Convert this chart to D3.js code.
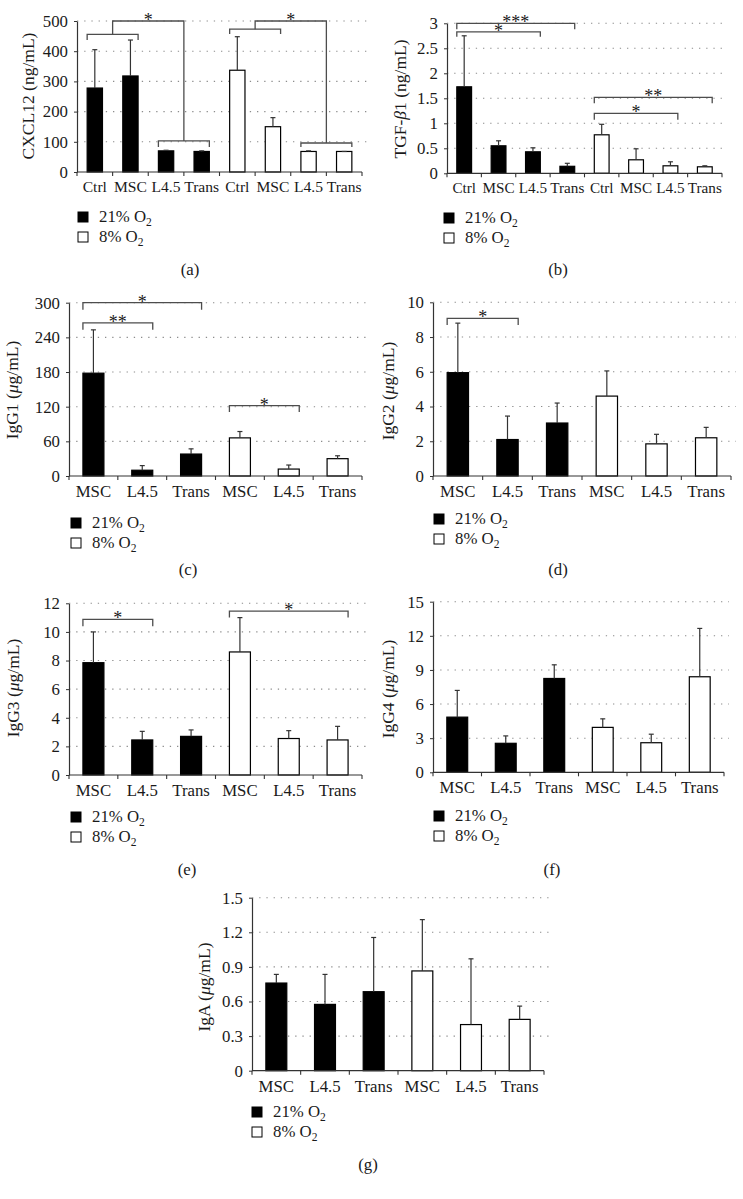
<!DOCTYPE html>
<html>
<head>
<meta charset="utf-8">
<script src="https://cdn.jsdelivr.net/npm/d3@7"></script>
<style>
  body { margin: 0; background: #fff; }
  text { font-family: "Liberation Serif", "DejaVu Serif", serif; fill: #1a1a1a; }
</style>
</head>
<body>
<svg id="fig" width="743" height="1199"></svg>
<script>
// categories
const catsCyto = ['Ctrl', 'MSC', 'L4.5', 'Trans', 'Ctrl', 'MSC', 'L4.5', 'Trans'];
const catsIg = ['MSC', 'L4.5', 'Trans', 'MSC', 'L4.5', 'Trans'];
const legendLabels = ['21% O', '8% O'];

// means and SD (upper error bar), first half = 21% O2, second half = 8% O2
const cxcl12Mean = [278, 318, 70, 68, 337, 150, 68, 68];
const cxcl12Sd   = [127, 119, 2, 2, 111, 30, 2, 0];
const tgfMean = [1.73, 0.55, 0.43, 0.14, 0.77, 0.27, 0.15, 0.13];
const tgfSd   = [1.02, 0.10, 0.08, 0.06, 0.21, 0.22, 0.08, 0.02];
const igg1Mean = [178, 10, 38, 66, 12, 30];
const igg1Sd   = [75, 8, 9, 11, 7, 5];
const igg2Mean = [5.95, 2.1, 3.05, 4.6, 1.85, 2.2];
const igg2Sd   = [2.85, 1.35, 1.15, 1.45, 0.55, 0.6];
const igg3Mean = [7.85, 2.45, 2.7, 8.6, 2.55, 2.45];
const igg3Sd   = [2.15, 0.6, 0.45, 2.4, 0.55, 0.95];
const igg4Mean = [4.85, 2.55, 8.25, 3.95, 2.6, 8.4];
const igg4Sd   = [2.35, 0.65, 1.2, 0.75, 0.75, 4.25];
const igaMean = [0.76, 0.575, 0.685, 0.865, 0.40, 0.445];
const igaSd   = [0.075, 0.26, 0.47, 0.445, 0.57, 0.115];

// tick labels
const ticksCxcl = [0, 100, 200, 300, 400, 500];
const ticksTgf = [0, 0.5, 1, 1.5, 2, 2.5, 3];
const ticksIgg1 = [0, 60, 120, 180, 240, 300];
const ticksIgg2 = [0, 2, 4, 6, 8, 10];
const ticksIgg3 = [0, 2, 4, 6, 8, 10, 12];
const ticksIgg4 = [0, 3, 6, 9, 12, 15];
const ticksIga = [0, 0.3, 0.6, 0.9, 1.2, 1.5];

// significance brackets (category indices, heights in data units)
const sigCxcl = [
  { left: [0, 1], right: [2, 3], leftY: 456, leftDrop: 437, rightY: 103, rightDrop: 83, top: 500, label: '*' },
  { left: [4, 5], right: [6, 7], leftY: 473, leftDrop: 457, rightY: 96, rightDrop: 83, top: 500, label: '*' }
];
const sigTgf = [
  { from: 0, to: 3, y: 3.0, drop: 2.88, label: '***' },
  { from: 0, to: 2, y: 2.83, drop: 2.73, label: '*' },
  { from: 4, to: 7, y: 1.52, drop: 1.4, label: '**' },
  { from: 4, to: 6, y: 1.2, drop: 1.07, label: '*' }
];
const sigIgg1 = [
  { from: 0, to: 2, y: 300, drop: 288, label: '*' },
  { from: 0, to: 1, y: 265, drop: 253, label: '**' },
  { from: 3, to: 4, y: 122, drop: 111, label: '*' }
];
const sigIgg2 = [ { from: 0, to: 1, y: 9.08, drop: 8.7, label: '*' } ];
const sigIgg3 = [
  { from: 0, to: 1, y: 10.88, drop: 10.4, label: '*' },
  { from: 3, to: 5, y: 11.46, drop: 11.0, label: '*' }
];

const panels = [
  { cats: catsCyto, mean: cxcl12Mean, sd: cxcl12Sd, ticks: ticksCxcl, sig: sigCxcl, nested: true,
    title: [['CXCL12 (ng/mL)', false]], tag: '(a)', catSize: 15.6,
    x0: 77, x1: 362, y0: 172, yTop: 21, titleX: 34, titleY: 96, legX: 78, legY: 212, tagX: 190, tagY: 275 },
  { cats: catsCyto, mean: tgfMean, sd: tgfSd, ticks: ticksTgf, sig: sigTgf,
    title: [['TGF-', false], ['β', true], ['1 (ng/mL)', false]], tag: '(b)', catSize: 15.2,
    x0: 447, x1: 722, y0: 173.3, yTop: 23.3, titleX: 406, titleY: 99, legX: 444, legY: 213, tagX: 558, tagY: 275 },
  { cats: catsIg, mean: igg1Mean, sd: igg1Sd, ticks: ticksIgg1, sig: sigIgg1,
    title: [['IgG1 (', false], ['μ', true], ['g/mL)', false]], tag: '(c)', catSize: 16.8,
    x0: 69, x1: 362, y0: 476, yTop: 302.7, titleX: 18, titleY: 390, legX: 71, legY: 518, tagX: 188, tagY: 575 },
  { cats: catsIg, mean: igg2Mean, sd: igg2Sd, ticks: ticksIgg2, sig: sigIgg2,
    title: [['IgG2 (', false], ['μ', true], ['g/mL)', false]], tag: '(d)', catSize: 16.8,
    x0: 433, x1: 731, y0: 476, yTop: 302.3, titleX: 394, titleY: 391, legX: 434, legY: 514, tagX: 558, tagY: 575 },
  { cats: catsIg, mean: igg3Mean, sd: igg3Sd, ticks: ticksIgg3, sig: sigIgg3,
    title: [['IgG3 (', false], ['μ', true], ['g/mL)', false]], tag: '(e)', catSize: 16.8,
    x0: 69, x1: 362, y0: 775, yTop: 603.3, titleX: 18.5, titleY: 688, legX: 71, legY: 812, tagX: 187, tagY: 875 },
  { cats: catsIg, mean: igg4Mean, sd: igg4Sd, ticks: ticksIgg4, sig: [],
    title: [['IgG4 (', false], ['μ', true], ['g/mL)', false]], tag: '(f)', catSize: 16.8,
    x0: 433, x1: 724, y0: 772.3, yTop: 601.7, titleX: 394, titleY: 689, legX: 434, legY: 811, tagX: 552, tagY: 875 },
  { cats: catsIg, mean: igaMean, sd: igaSd, ticks: ticksIga, sig: [],
    title: [['IgA (', false], ['μ', true], ['g/mL)', false]], tag: '(g)', catSize: 16.8,
    x0: 252, x1: 544, y0: 1070.7, yTop: 897.7, titleX: 210, titleY: 987, legX: 252, legY: 1107, tagX: 368, tagY: 1170 }
];

const svg = d3.select('#fig');
svg.append('rect').attr('width', 743).attr('height', 1199).attr('fill', '#fff');

const fs = 16.8; // main label size

function drawPanel(p) {
  const g = svg.append('g');
  const n = p.cats.length;
  const half = n / 2;
  const x = d3.scaleBand().domain(d3.range(n)).range([p.x0, p.x1]);
  const y = d3.scaleLinear().domain([0, d3.max(p.ticks)]).range([p.y0, p.yTop]);
  const bw = x.bandwidth() * 0.43;
  const cx = i => x(i) + x.bandwidth() / 2;

  // dotted gridlines
  g.selectAll('.grid').data(p.ticks.filter(t => t > 0)).join('line')
    .attr('x1', p.x0).attr('x2', p.x1 + 5)
    .attr('y1', d => y(d)).attr('y2', d => y(d))
    .attr('stroke', '#8c8c8c').attr('stroke-width', 1.1)
    .attr('stroke-dasharray', '1.3,5.9');

  // bars
  g.selectAll('.bar').data(p.mean).join('rect')
    .attr('x', (d, i) => cx(i) - bw / 2)
    .attr('y', d => y(d))
    .attr('width', bw)
    .attr('height', d => y(0) - y(d))
    .attr('fill', (d, i) => i < half ? '#000' : '#fff')
    .attr('stroke', '#000').attr('stroke-width', 1.2);

  // error bars (upper only)
  const err = g.selectAll('.err').data(p.mean.map((m, i) => ({ m, s: p.sd[i], i }))).join('g');
  err.append('line')
    .attr('x1', d => cx(d.i)).attr('x2', d => cx(d.i))
    .attr('y1', d => y(d.m)).attr('y2', d => y(d.m + d.s))
    .attr('stroke', '#333').attr('stroke-width', 1.2);
  err.append('line')
    .attr('x1', d => cx(d.i) - 2.5).attr('x2', d => cx(d.i) + 2.5)
    .attr('y1', d => y(d.m + d.s)).attr('y2', d => y(d.m + d.s))
    .attr('stroke', '#333').attr('stroke-width', 1.2);

  // y axis
  const ya = g.append('g').attr('transform', `translate(${p.x0},0)`)
    .call(d3.axisLeft(y).tickValues(p.ticks).tickSize(3).tickSizeOuter(0).tickPadding(6).tickFormat(d => String(d)));
  ya.select('.domain').attr('stroke', '#333').attr('stroke-width', 1.2);
  ya.selectAll('.tick line').attr('stroke', '#333');
  ya.selectAll('.tick text').attr('font-size', fs).attr('fill', '#1a1a1a')
    .style('font-family', '"Liberation Serif", serif');

  // x axis
  const xa = g.append('g').attr('transform', `translate(0,${p.y0})`)
    .call(d3.axisBottom(x).tickSize(0).tickPadding(9).tickFormat(i => p.cats[i]));
  xa.select('.domain').remove();
  xa.selectAll('.tick text').attr('font-size', p.catSize).attr('fill', '#1a1a1a')
    .style('font-family', '"Liberation Serif", serif');
  g.append('line').attr('x1', p.x0).attr('x2', p.x1).attr('y1', p.y0).attr('y2', p.y0)
    .attr('stroke', '#333').attr('stroke-width', 1.2);
  g.selectAll('.xt').data(d3.range(n + 1)).join('line')
    .attr('x1', i => p.x0 + i * x.step()).attr('x2', i => p.x0 + i * x.step())
    .attr('y1', p.y0).attr('y2', p.y0 + 4)
    .attr('stroke', '#333').attr('stroke-width', 1.1);

  // y title
  const t = g.append('text')
    .attr('transform', `translate(${p.titleX},${p.titleY}) rotate(-90)`)
    .attr('text-anchor', 'middle').attr('font-size', 17.5);
  p.title.forEach(([s, it]) => t.append('tspan').text(s).attr('font-style', it ? 'italic' : 'normal'));

  // significance brackets
  const bc = '#4d4d4d';
  const line = d3.line();
  const star = (sx, sy, label) => g.append('text').attr('x', sx).attr('y', sy + 5)
    .attr('text-anchor', 'middle').attr('font-size', 18)
    .attr('fill', '#333').text(label);
  if (p.nested) {
    p.sig.forEach(s => {
      const lx1 = cx(s.left[0]) - bw / 2, lx2 = cx(s.left[1]) + bw / 2;
      const rx1 = cx(s.right[0]) - bw / 2, rx2 = cx(s.right[1]) + bw / 2;
      const lm = (lx1 + lx2) / 2, rm = (rx1 + rx2) / 2;
      g.append('path').attr('d', line([[lx1, y(s.leftDrop)], [lx1, y(s.leftY)], [lx2, y(s.leftY)], [lx2, y(s.leftDrop)]]))
        .attr('fill', 'none').attr('stroke', bc).attr('stroke-width', 1.3);
      g.append('path').attr('d', line([[rx1, y(s.rightDrop)], [rx1, y(s.rightY)], [rx2, y(s.rightY)], [rx2, y(s.rightDrop)]]))
        .attr('fill', 'none').attr('stroke', bc).attr('stroke-width', 1.3);
      g.append('path').attr('d', line([[lm, y(s.leftY)], [lm, y(s.top)], [rm, y(s.top)], [rm, y(s.rightY)]]))
        .attr('fill', 'none').attr('stroke', bc).attr('stroke-width', 1.3);
      star((lm + rm) / 2, y(s.top), s.label);
    });
  } else {
    p.sig.forEach(s => {
      const bx1 = cx(s.from) - bw / 2, bx2 = cx(s.to) + bw / 2;
      g.append('path').attr('d', line([[bx1, y(s.drop)], [bx1, y(s.y)], [bx2, y(s.y)], [bx2, y(s.drop)]]))
        .attr('fill', 'none').attr('stroke', bc).attr('stroke-width', 1.3);
      star((bx1 + bx2) / 2, y(s.y), s.label);
    });
  }

  // legend
  legendLabels.forEach((lab, k) => {
    const ly = p.legY + k * 20;
    g.append('rect').attr('x', p.legX).attr('y', ly).attr('width', 10).attr('height', 10)
      .attr('fill', k === 0 ? '#000' : '#fff').attr('stroke', '#000').attr('stroke-width', 1);
    const lt = g.append('text').attr('x', p.legX + 21).attr('y', ly + 10).attr('font-size', fs);
    lt.append('tspan').text(lab);
    lt.append('tspan').text('2').attr('font-size', 11.5).attr('dy', 4);
  });

  // panel tag
  g.append('text').attr('x', p.tagX).attr('y', p.tagY).attr('text-anchor', 'middle')
    .attr('font-size', fs).text(p.tag);
}

panels.forEach(drawPanel);
</script>
</body>
</html>
